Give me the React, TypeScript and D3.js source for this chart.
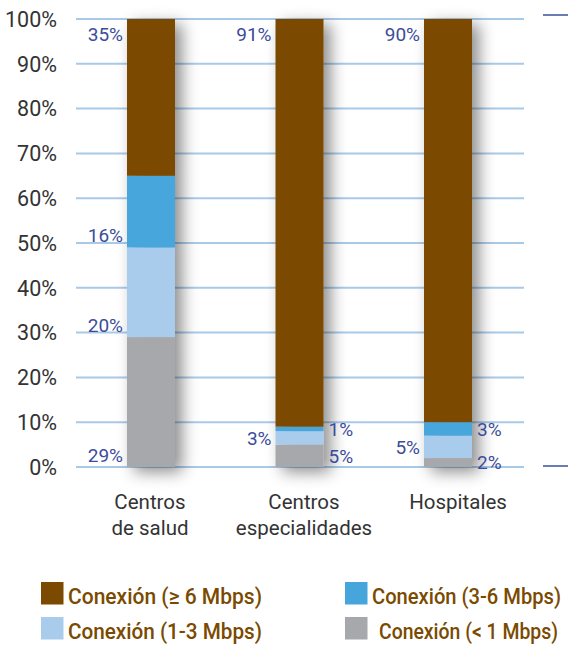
import React from "react";
import * as d3 from "d3";

const categories = ["Centros de salud", "Centros especialidades", "Hospitales"];
const categoryLines = [["Centros", "de salud"], ["Centros", "especialidades"], ["Hospitales"]];
const seriesNames = ["Conexión (< 1 Mbps)", "Conexión (1-3 Mbps)", "Conexión (3-6 Mbps)", "Conexión (≥ 6 Mbps)"];
const lt1 = [29, 5, 2];
const r1to3 = [20, 3, 5];
const r3to6 = [16, 1, 3];
const ge6 = [35, 91, 90];
const yTicks = [0, 10, 20, 30, 40, 50, 60, 70, 80, 90, 100];
// label side per series per category ("L" left of bar, "R" right of bar)
const labelSides = [
  ["L", "L", "L", "L"],
  ["R", "L", "R", "L"],
  ["R", "L", "R", "L"],
];
const legendOrder = [3, 2, 1, 0];

const colors = ["#a7a8ac", "#a9cbec", "#46a6dc", "#7b4a00"];

export default function App() {
  const W = 568, H = 646;
  const y = d3.scaleLinear().domain([0, 100]).range([467, 19]);
  const yRight = d3.scaleLinear().domain([0, 100]).range([466, 15]);
  const x = d3.scalePoint<string>().domain(categories).range([151, 448]);
  const xLab = d3.scalePoint<string>().domain(categories).range([150, 458]);
  const barW = 48;
  const series = [lt1, r1to3, r3to6, ge6];
  const stackData = categories.map((c, i) => {
    const o: any = { cat: c };
    seriesNames.forEach((s, k) => (o[s] = series[k][i]));
    return o;
  });
  const stacked = d3.stack().keys(seriesNames)(stackData);
  const legendWidths = [179, 194, 189, 194];

  const labelFont = "Roboto, 'Noto Sans', sans-serif";
  return (
    <svg width={W} height={H} style={{ position: "absolute", left: 0, top: 0, background: "#fff" }}>
      <defs>
        <filter id="sh" x="-60%" y="-20%" width="250%" height="140%">
          <feDropShadow dx="7" dy="5" stdDeviation="8" floodColor="#000" floodOpacity="0.45" />
        </filter>
      </defs>
      {yTicks.map((t) => (
        <g key={t}>
          <line x1={76} x2={524} y1={y(t)} y2={y(t)} stroke="#a9c9e8" strokeWidth={2} />
          <text x={57} y={y(t)} dy="0.36em" textAnchor="end" fontFamily={labelFont} fontSize={21.5} fill="#333">
            {t}%
          </text>
        </g>
      ))}
      {[0, 100].map((t) => (
        <line key={t} x1={543} x2={568} y1={yRight(t)} y2={yRight(t)} stroke="#3a4f9a" strokeWidth={1.5} />
      ))}
      <g filter="url(#sh)">
        {stacked.map((s, k) =>
          s.map((d, i) => (
            <rect
              key={k + "-" + i}
              x={(x(categories[i]) as number) - barW / 2}
              width={barW}
              y={y(d[1])}
              height={y(d[0]) - y(d[1])}
              fill={colors[k]}
            />
          ))
        )}
      </g>
      {stacked.map((s, k) =>
        s.map((d, i) => {
          const top = y(d[1]);
          const bot = y(d[0]);
          const isTop = k === seriesNames.length - 1;
          const ly = isTop ? top + 15 : Math.max(bot - 12, (top + bot) / 2);
          const side = labelSides[i][k];
          const cx = x(categories[i]) as number;
          const lx = side === "L" ? cx - barW / 2 - 4 : cx + barW / 2 + 5;
          return (
            <text
              key={"l" + k + "-" + i}
              x={lx}
              y={ly}
              dy="0.36em"
              textAnchor={side === "L" ? "end" : "start"}
              fontFamily={labelFont}
              fontSize={19}
              fill="#3b4c9b"
            >
              {series[k][i]}%
            </text>
          );
        })
      )}
      {categories.map((c, i) => (
        <text key={c} x={xLab(c)} y={502} textAnchor="middle" fontFamily={labelFont} fontSize={20.5} fill="#333">
          {categoryLines[i].map((ln, j) => (
            <tspan key={j} x={xLab(c)} dy={j === 0 ? "0.36em" : 26}>
              {ln}
            </tspan>
          ))}
        </text>
      ))}
      {legendOrder.map((k, j) => {
        const col = j % 2;
        const row = Math.floor(j / 2);
        const lx = col === 0 ? 41 : 345;
        const ly = 582 + row * 35;
        return (
          <g key={k}>
            <rect x={lx} y={ly} width={22.5} height={22.5} fill={colors[k]} />
            <text
              x={lx + 27 + (k === 0 ? 7 : 0)}
              y={ly + 22}
              fontFamily={labelFont}
              fontWeight={500}
              fontSize={22.5}
              textLength={legendWidths[k]}
              lengthAdjust="spacingAndGlyphs"
              fill="#7a4a00"
            >
              {seriesNames[k]}
            </text>
          </g>
        );
      })}
    </svg>
  );
}
